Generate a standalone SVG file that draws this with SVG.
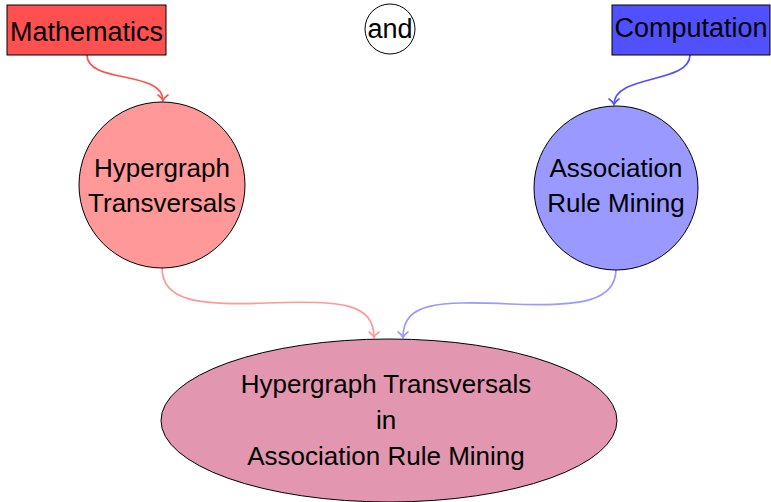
<svg xmlns="http://www.w3.org/2000/svg" width="771" height="502" viewBox="0 0 771 502">
<style>
text{font-family:"Liberation Sans",Arial,sans-serif;fill:#000;text-anchor:middle}
.t27{font-size:27px}
.t26{font-size:26px}
.node{stroke:#000;stroke-width:1}
.conn{fill:none;stroke-width:1.7}
</style>
<defs>
<marker id="aR" markerUnits="userSpaceOnUse" viewBox="-7 -7 9 14" markerWidth="9" markerHeight="14" refX="0" refY="0" orient="auto"><path d="M-5.5,-5 C-3.5,-2 -1.5,-0.5 0,0 C-1.5,0.5 -3.5,2 -5.5,5" fill="none" stroke="#ff5050" stroke-width="1.6" stroke-linecap="round"/></marker>
<marker id="aB" markerUnits="userSpaceOnUse" viewBox="-7 -7 9 14" markerWidth="9" markerHeight="14" refX="0" refY="0" orient="auto"><path d="M-5.5,-5 C-3.5,-2 -1.5,-0.5 0,0 C-1.5,0.5 -3.5,2 -5.5,5" fill="none" stroke="#5050ff" stroke-width="1.6" stroke-linecap="round"/></marker>
<marker id="aLR" markerUnits="userSpaceOnUse" viewBox="-7 -7 9 14" markerWidth="9" markerHeight="14" refX="0" refY="0" orient="auto"><path d="M-5.5,-5 C-3.5,-2 -1.5,-0.5 0,0 C-1.5,0.5 -3.5,2 -5.5,5" fill="none" stroke="#ff9999" stroke-width="1.6" stroke-linecap="round"/></marker>
<marker id="aLB" markerUnits="userSpaceOnUse" viewBox="-7 -7 9 14" markerWidth="9" markerHeight="14" refX="0" refY="0" orient="auto"><path d="M-5.5,-5 C-3.5,-2 -1.5,-0.5 0,0 C-1.5,0.5 -3.5,2 -5.5,5" fill="none" stroke="#9999ff" stroke-width="1.6" stroke-linecap="round"/></marker>
</defs>
<g id="connectors">
<path class="conn" stroke="#ff5050" marker-end="url(#aR)" d="M87,55 C87,84 163,70 163,100.5"/>
<path class="conn" stroke="#5050ff" marker-end="url(#aB)" d="M690,55 C690,84 614,74 614,104.5"/>
<path class="conn" stroke="#ff9999" marker-end="url(#aLR)" d="M162,268 C162,300 196,306 268,303 S374,303 374,337.5"/>
<path class="conn" stroke="#9999ff" marker-end="url(#aLB)" d="M616,269 C616,301 582,307 510,304 S403,302 403,337.5"/>
</g>
<g id="mathematics">
<rect class="node" x="7" y="5" width="159" height="50" fill="#ff5050"/>
<text class="t27" x="86.5" y="41">Mathematics</text>
</g>
<g id="and">
<circle class="node" cx="390" cy="29" r="25" fill="#fff"/>
<text class="t27" x="390" y="38">and</text>
</g>
<g id="computation">
<rect class="node" x="612" y="5" width="158" height="50" fill="#5050ff"/>
<text class="t27" x="691" y="37">Computation</text>
</g>
<g id="hypergraph">
<circle class="node" cx="162" cy="185" r="83" fill="#ff9999"/>
<text class="t26" x="162" y="177">Hypergraph</text>
<text class="t26" x="162" y="212">Transversals</text>
</g>
<g id="association">
<circle class="node" cx="616" cy="188" r="82" fill="#9999ff"/>
<text class="t26" x="616" y="177">Association</text>
<text class="t26" x="616" y="212">Rule Mining</text>
</g>
<g id="combined">
<ellipse class="node" cx="389" cy="420.5" rx="228" ry="81.5" fill="#e396b0"/>
<text class="t26" x="386" y="393">Hypergraph Transversals</text>
<text class="t26" x="386" y="429">in</text>
<text class="t26" x="386" y="465">Association Rule Mining</text>
</g>
</svg>
